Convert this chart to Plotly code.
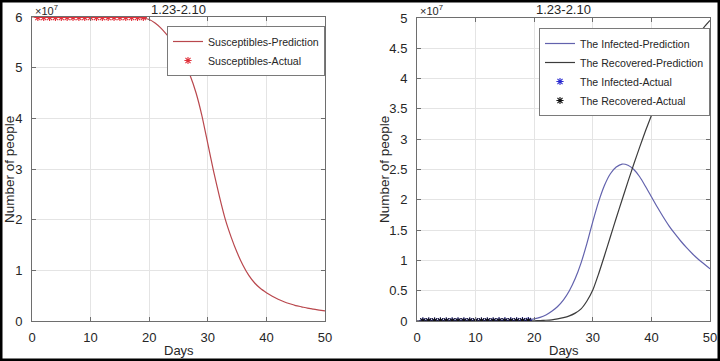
import plotly.graph_objects as go

# ---------------- data (values in units of 10^7 people) ----------------
days = list(range(0, 51))

susceptible_pred = [
    6.0, 6.0, 6.0, 6.0, 6.0, 6.0, 6.0, 6.0, 6.0, 6.0,
    6.0, 6.0, 6.0, 6.0, 6.0, 6.0, 5.998, 5.995, 5.99, 5.98,
    5.95, 5.88, 5.78, 5.65, 5.5, 5.32, 5.1, 4.84, 4.5, 4.05,
    3.5, 2.95, 2.45, 2.0, 1.65, 1.35, 1.1, 0.9, 0.75, 0.64,
    0.56, 0.49, 0.43, 0.38, 0.34, 0.305, 0.28, 0.255, 0.235, 0.215,
    0.2,
]
infected_pred = [
    0.0, 0.0, 0.0, 0.0, 0.0, 0.0, 0.0, 0.0, 0.0, 0.0005,
    0.0008, 0.001, 0.0015, 0.002, 0.003, 0.004, 0.005, 0.008, 0.012, 0.02,
    0.035, 0.06, 0.1, 0.16, 0.24, 0.35, 0.5, 0.7, 0.96, 1.28,
    1.64, 1.97, 2.24, 2.43, 2.54, 2.59, 2.57, 2.5, 2.38, 2.22,
    2.05, 1.88, 1.72, 1.57, 1.44, 1.32, 1.21, 1.11, 1.02, 0.94,
    0.86,
]
recovered_pred = [
    0.0, 0.0, 0.0, 0.0, 0.0, 0.0, 0.0, 0.0, 0.0, 0.0,
    0.0, 0.0, 0.0, 0.0, 0.0, 0.0005, 0.001, 0.0015, 0.002, 0.003,
    0.004, 0.007, 0.012, 0.02, 0.035, 0.055, 0.085, 0.13, 0.2, 0.33,
    0.51, 0.78, 1.08, 1.39, 1.7, 2.0, 2.3, 2.59, 2.87, 3.14,
    3.39, 3.62, 3.83, 4.02, 4.19, 4.34, 4.48, 4.61, 4.73, 4.85,
    4.96,
]

actual_days = list(range(1, 20))
susceptible_actual = [5.99] * 19
infected_actual = [0.0, 0.0, 0.0, 0.0, 0.0, 0.0, 0.0, 0.0, 0.0, 0.0,
                   0.0, 0.0, 0.0, 0.001, 0.002, 0.003, 0.004, 0.006, 0.008]
recovered_actual = [0.0] * 19

x_ticks = [0, 10, 20, 30, 40, 50]
left_y_ticks = [0, 1, 2, 3, 4, 5, 6]
right_y_ticks = [0, 0.5, 1, 1.5, 2, 2.5, 3, 3.5, 4, 4.5, 5]
right_y_labels = ["0", "0.5", "1", "1.5", "2", "2.5", "3", "3.5", "4", "4.5", "5"]
title_text = "1.23-2.10"

# ---------------- figure ----------------
W, H = 720, 361
FONT = "Liberation Sans, Arial, sans-serif"
TXT = "#262626"
AX = "#6e6e6e"
GRID = "#e4e4e4"

fig = go.Figure()

line_shape = dict(shape="spline", smoothing=0.6)

fig.add_trace(go.Scatter(x=days, y=susceptible_pred, mode="lines",
                         line=dict(color="#b9474d", width=1.2, **line_shape),
                         name="Susceptibles-Prediction", xaxis="x", yaxis="y", legend="legend"))
fig.add_trace(go.Scatter(x=actual_days, y=susceptible_actual, mode="markers",
                         marker=dict(symbol="asterisk-open", size=6, color="#e0303a",
                                     line=dict(color="#e0303a", width=1.1)),
                         name="Susceptibles-Actual", xaxis="x", yaxis="y", legend="legend"))

fig.add_trace(go.Scatter(x=days, y=infected_pred, mode="lines",
                         line=dict(color="#6262ad", width=1.2, **line_shape),
                         name="The Infected-Prediction", xaxis="x2", yaxis="y2", legend="legend2"))
fig.add_trace(go.Scatter(x=days, y=recovered_pred, mode="lines",
                         line=dict(color="#3c3c3c", width=1.2, **line_shape),
                         name="The Recovered-Prediction", xaxis="x2", yaxis="y2", legend="legend2"))
fig.add_trace(go.Scatter(x=actual_days, y=infected_actual, mode="markers",
                         marker=dict(symbol="asterisk-open", size=6, color="#2b2bd0",
                                     line=dict(color="#2b2bd0", width=1.1)),
                         name="The Infected-Actual", xaxis="x2", yaxis="y2", legend="legend2"))
fig.add_trace(go.Scatter(x=actual_days, y=recovered_actual, mode="markers",
                         marker=dict(symbol="asterisk-open", size=6, color="#111111",
                                     line=dict(color="#111111", width=1.1)),
                         name="The Recovered-Actual", xaxis="x2", yaxis="y2", legend="legend2"))

def px_x(p):
    return p / W

def px_y(p):
    return 1 - p / H

axis_common = dict(
    showline=True, linecolor=AX, linewidth=1, mirror="ticks",
    ticks="inside", ticklen=4, tickcolor=AX,
    showgrid=True, gridcolor=GRID, gridwidth=1,
    zeroline=False, automargin=False,
    tickfont=dict(family=FONT, size=13, color=TXT),
)

fig.update_layout(
    width=W, height=H,
    margin=dict(l=0, r=0, t=0, b=0, autoexpand=False),
    paper_bgcolor="white", plot_bgcolor="white",
    font=dict(family=FONT, color=TXT),
    xaxis=dict(domain=[px_x(32), px_x(325)], anchor="y", range=[0, 50], tickvals=x_ticks,
               ticklabelstandoff=4, **axis_common),
    yaxis=dict(domain=[px_y(321), px_y(17)], anchor="x", range=[0, 6], tickvals=left_y_ticks,
               ticklabelstandoff=6, **axis_common),
    xaxis2=dict(domain=[px_x(417), px_x(710)], anchor="y2", range=[0, 50], tickvals=x_ticks,
                ticklabelstandoff=4, **axis_common),
    yaxis2=dict(domain=[px_y(321), px_y(18)], anchor="x2", range=[0, 5], tickvals=right_y_ticks,
                ticktext=right_y_labels, ticklabelstandoff=6, **axis_common),
    legend=dict(x=px_x(325), y=px_y(26), xanchor="right", yanchor="top",
                bgcolor="white", bordercolor="#7a7a7a", borderwidth=1,
                font=dict(family=FONT, size=10.6, color=TXT)),
    legend2=dict(x=px_x(710), y=px_y(28), xanchor="right", yanchor="top",
                 bgcolor="white", bordercolor="#7a7a7a", borderwidth=1,
                 font=dict(family=FONT, size=10.6, color=TXT)),
    showlegend=True,
)

annots = [
    dict(text=title_text, x=px_x(178.5), y=px_y(10), size=13),
    dict(text=title_text, x=px_x(563.5), y=px_y(10), size=13),
    dict(text="×10<sup>7</sup>", x=px_x(33), y=px_y(10), xanchor="left", size=11),
    dict(text="×10<sup>7</sup>", x=px_x(418), y=px_y(10), xanchor="left", size=11),
    dict(text="Days", x=px_x(178.5), y=px_y(350), size=13),
    dict(text="Days", x=px_x(563.5), y=px_y(350), size=13),
    dict(text="Number of people", x=px_x(10), y=px_y(170), textangle=-90, size=13.5),
    dict(text="Number of people", x=px_x(385), y=px_y(170), textangle=-90, size=13.5),
]
for a in annots:
    size = a.pop("size")
    a.setdefault("xanchor", "center")
    fig.add_annotation(xref="paper", yref="paper", showarrow=False, yanchor="middle",
                       font=dict(family=FONT, color=TXT, size=size), **a)

fig.add_shape(type="rect", xref="paper", yref="paper", x0=0, x1=1, y0=0, y1=1,
              line=dict(color="black", width=5), fillcolor="rgba(0,0,0,0)", layer="above")

fig.write_html(
    "out.html",
    config={"displayModeBar": False},
    post_script="document.body.style.margin='0';document.body.style.overflow='hidden';",
)
